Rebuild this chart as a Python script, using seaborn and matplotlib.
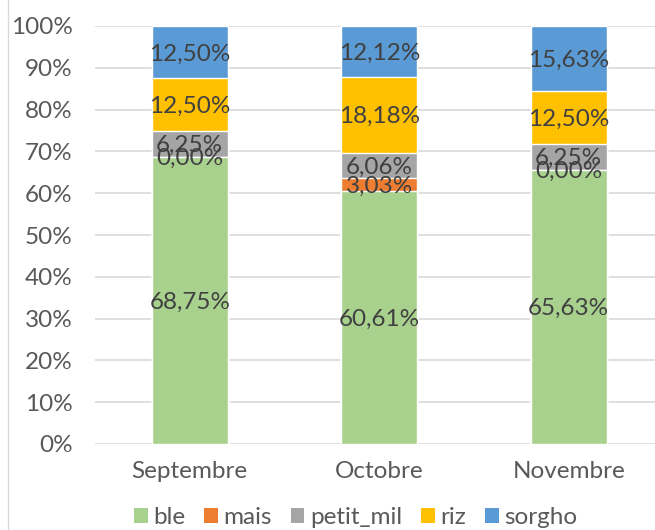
import numpy as np
import matplotlib
matplotlib.use("Agg")
import matplotlib.pyplot as plt
from matplotlib.lines import Line2D
from matplotlib.patches import Patch
import seaborn as sns

# data (percent of each month)
months = ["Septembre", "Octobre", "Novembre"]
crops = ["ble", "mais", "petit_mil", "riz", "sorgho"]
ble = [68.75, 60.61, 65.63]
mais = [0.00, 3.03, 0.00]
petit_mil = [6.25, 6.06, 6.25]
riz = [12.50, 18.18, 12.50]
sorgho = [12.50, 12.12, 15.63]
colors = ["#A9D18E", "#ED7D31", "#A5A5A5", "#FFC000", "#5B9BD5"]

sns.set_style("white")
plt.rcParams["font.family"] = ["Lato", "DejaVu Sans"]
axis_txt = "#595959"
label_txt = "#404040"
fs = 17.5

series = np.array([ble, mais, petit_mil, riz, sorgho])
tops = series.cumsum(axis=0)
bottoms = tops - series

fig = plt.figure(figsize=(6.55, 5.3), dpi=100)
ax = fig.add_axes([95 / 655, 86 / 530, 560 / 655, 418 / 530])

# stacked bars: draw the cumulative totals from the top layer down
for i in range(len(crops) - 1, -1, -1):
    sns.barplot(x=months, y=tops[i], color=colors[i], width=0.4,
                saturation=1, ax=ax, zorder=2)

# value labels in the middle of each segment
for i in range(len(crops)):
    for j in range(len(months)):
        ax.text(j, (bottoms[i, j] + tops[i, j]) / 2,
                f"{series[i, j]:.2f}%".replace(".", ","),
                ha="center", va="center_baseline", fontsize=fs,
                color=label_txt, zorder=3)

ax.set_ylim(0, 100)
ax.set_xlim(-0.5, 2.455)
ax.set_yticks(np.arange(0, 101, 10))
ax.set_yticklabels([f"{v}%" for v in range(0, 101, 10)])
ax.yaxis.grid(True, color="#D9D9D9", linewidth=1.2, zorder=0)
ax.set_axisbelow(True)
ax.tick_params(axis="both", length=0, labelsize=fs, colors=axis_txt)
ax.tick_params(axis="y", pad=16)
ax.tick_params(axis="x", pad=12)
ax.set_xlabel("")
ax.set_ylabel("")
sns.despine(ax=ax, left=True, bottom=True)

handles = [Patch(facecolor=c, edgecolor="none") for c in colors]
fig.legend(handles, crops, loc="center", bbox_to_anchor=(0.543, 0.024), ncol=5,
           frameon=False, fontsize=fs, labelcolor=axis_txt, handlelength=0.55,
           handleheight=0.55, handletextpad=0.22, columnspacing=0.8)

fig.add_artist(Line2D([8 / 655, 8 / 655], [0, 1], color="#D9D9D9", linewidth=1))

fig.savefig("out.png", dpi=100)
